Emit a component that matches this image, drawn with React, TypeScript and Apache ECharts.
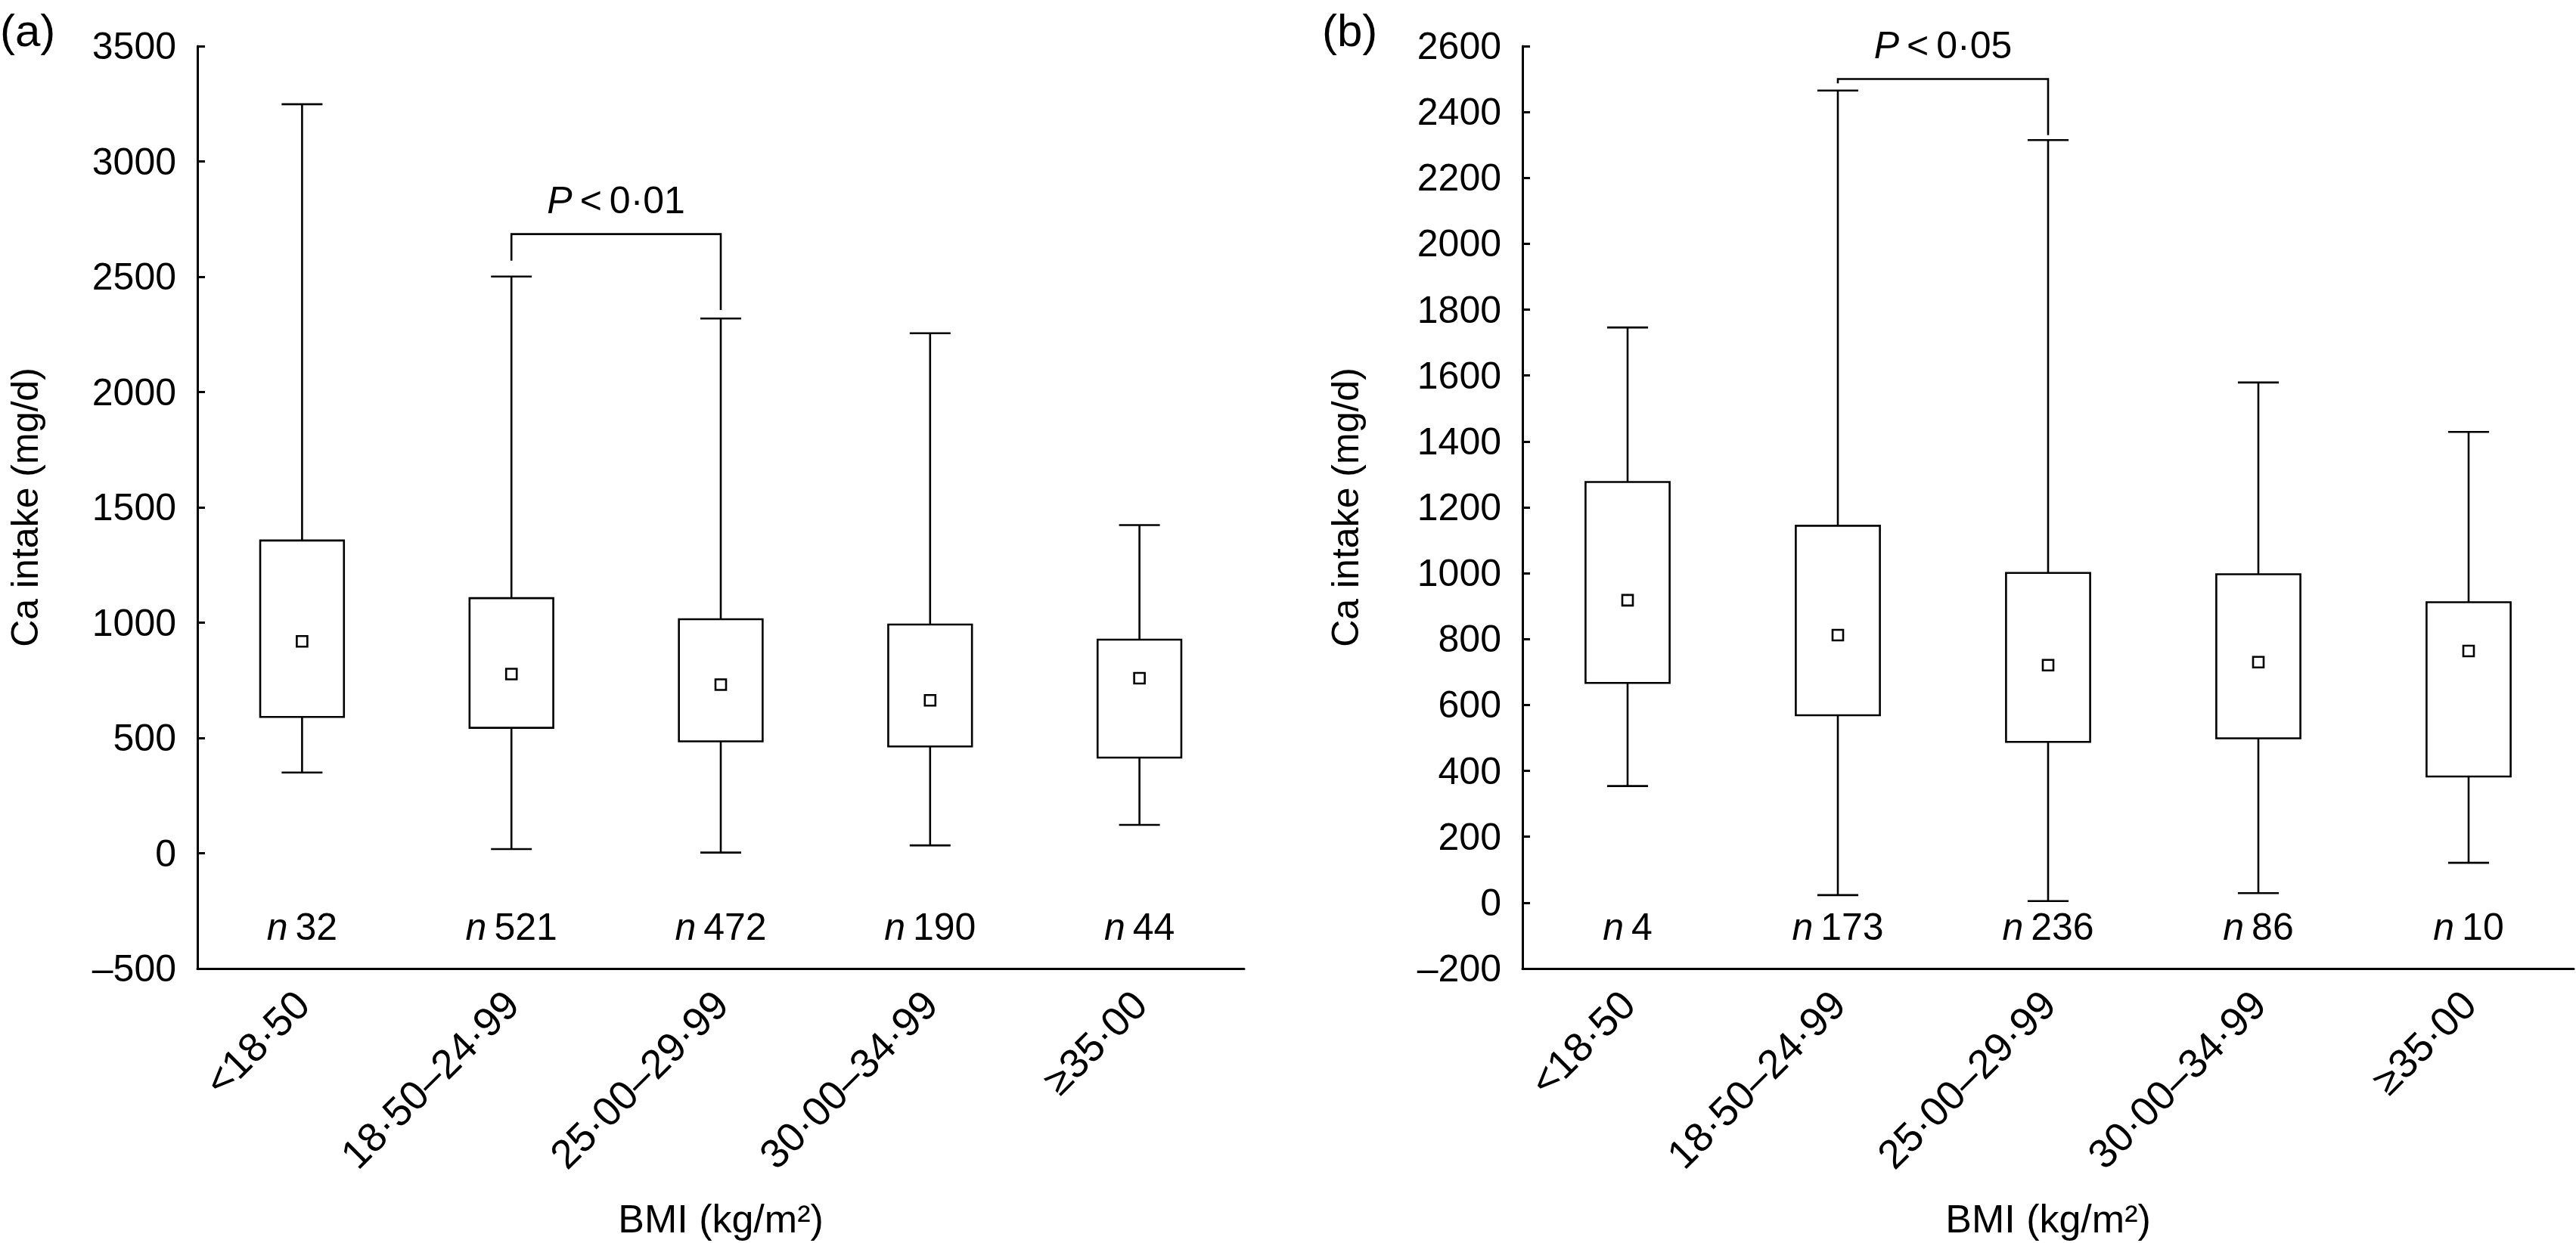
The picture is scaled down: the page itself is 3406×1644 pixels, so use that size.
import React, { useEffect, useRef } from 'react';
import * as echarts from 'echarts';

// ---------- data ----------
const categories = ['<18·50', '18·50–24·99', '25·00–29·99', '30·00–34·99', '≥35·00'];

// Panel (a): Ca intake (mg/d) by BMI
const aLow = [350, 18, 3, 34, 123];
const aQ1 = [591, 544, 485, 463, 415];
const aQ3 = [1356, 1106, 1015, 992, 926];
const aHigh = [3248, 2501, 2319, 2255, 1423];
const aMean = [919, 777, 731, 663, 759];
const aN = [32, 521, 472, 190, 44];
const aAxis = { min: -500, max: 3500, interval: 500 };
const aBracket = [1, 2, 2685, 2570, 2356]; // from cat, to cat, top, left end, right end
const aP = '0·01';

// Panel (b)
const bLow = [354, 23, 5, 29, 121];
const bQ1 = [667, 569, 488, 499, 383];
const bQ3 = [1277, 1144, 1001, 997, 912];
const bHigh = [1746, 2465, 2315, 1579, 1429];
const bMean = [918, 812, 721, 730, 764];
const bN = [4, 173, 236, 86, 10];
const bAxis = { min: -200, max: 2600, interval: 200 };
const bBracket = [1, 2, 2500, 2487, 2330];
const bP = '0·05';

const yName = 'Ca intake (mg/d)';
const xName = 'BMI (kg/m²)';

// ---------- style ----------
const FONT = '"Liberation Sans", Arial, Helvetica, sans-serif';
const LW = 2.6;
const BLACK = '#000';

const boxRows = (lo: number[], q1: number[], q3: number[], hi: number[], mean: number[]) =>
  categories.map((_, i) => [i, lo[i], q1[i], q3[i], hi[i], mean[i]]);

const renderBox = (_params: any, api: any) => {
  const i = api.value(0);
  const pLow = api.coord([i, api.value(1)]);
  const pQ1 = api.coord([i, api.value(2)]);
  const pQ3 = api.coord([i, api.value(3)]);
  const pHigh = api.coord([i, api.value(4)]);
  const pMean = api.coord([i, api.value(5)]);
  const band = api.size([1, 0])[0];
  const cx = pLow[0];
  const bw = band * 0.4;
  const cw = band * 0.195;
  const ms = 14;
  const ls = { stroke: BLACK, lineWidth: LW, fill: 'none' };
  return {
    type: 'group',
    children: [
      { type: 'line', shape: { x1: cx, y1: pHigh[1], x2: cx, y2: pQ3[1] }, style: ls },
      { type: 'line', shape: { x1: cx, y1: pQ1[1], x2: cx, y2: pLow[1] }, style: ls },
      { type: 'line', shape: { x1: cx - cw / 2, y1: pHigh[1], x2: cx + cw / 2, y2: pHigh[1] }, style: ls },
      { type: 'line', shape: { x1: cx - cw / 2, y1: pLow[1], x2: cx + cw / 2, y2: pLow[1] }, style: ls },
      {
        type: 'rect',
        shape: { x: cx - bw / 2, y: pQ3[1], width: bw, height: pQ1[1] - pQ3[1] },
        style: { stroke: BLACK, lineWidth: LW, fill: '#fff' },
      },
      {
        type: 'rect',
        shape: { x: cx - ms / 2, y: pMean[1] - ms / 2, width: ms, height: ms },
        style: { stroke: BLACK, lineWidth: LW, fill: '#fff' },
      },
    ],
  };
};

const renderBracket = (pText: string) => (_params: any, api: any) => {
  const l = api.value(0);
  const r = api.value(1);
  const pL = api.coord([l, api.value(2)]);
  const pR = api.coord([r, api.value(2)]);
  const pLe = api.coord([l, api.value(3)]);
  const pRe = api.coord([r, api.value(4)]);
  return {
    type: 'group',
    children: [
      {
        type: 'polyline',
        shape: { points: [[pLe[0], pLe[1]], [pL[0], pL[1]], [pR[0], pR[1]], [pRe[0], pRe[1]]] },
        style: { stroke: BLACK, lineWidth: LW, fill: 'none' },
      },
      {
        type: 'text',
        x: (pL[0] + pR[0]) / 2,
        y: pL[1] - 45,
        style: {
          text: '{i|P}\u2009<\u2009' + pText,
          rich: { i: { fontStyle: 'italic', fontSize: 50, fontFamily: FONT, fill: BLACK } },
          fontSize: 50,
          fontFamily: FONT,
          fill: BLACK,
          align: 'center',
          verticalAlign: 'middle',
        },
      },
    ],
  };
};

const yAxisOf = (gridIndex: number, t: { min: number; max: number; interval: number }, nameGap: number) => ({
  type: 'value',
  gridIndex,
  min: t.min,
  max: t.max,
  interval: t.interval,
  name: yName,
  nameLocation: 'middle',
  nameGap,
  nameTextStyle: { fontSize: 50, fontFamily: FONT, color: BLACK },
  axisLine: { show: true, lineStyle: { color: BLACK, width: 3 } },
  axisTick: { show: true, inside: true, length: 10, lineStyle: { color: BLACK, width: 3 } },
  axisLabel: {
    fontSize: 50,
    fontFamily: FONT,
    color: BLACK,
    margin: 28,
    formatter: (v: number) => (v < 0 ? '\u2013' + Math.abs(v) : String(v)),
  },
  splitLine: { show: false },
});

const xCatAxis = (gridIndex: number) => ({
  type: 'category',
  gridIndex,
  data: categories,
  boundaryGap: true,
  position: 'bottom',
  axisLine: { onZero: false, lineStyle: { color: BLACK, width: 3 } },
  axisTick: { alignWithLabel: true, inside: true, length: 10, lineStyle: { color: BLACK, width: 3 } },
  axisLabel: { rotate: 45, interval: 0, fontSize: 54, fontFamily: FONT, color: BLACK, margin: 38 },
  name: xName,
  nameLocation: 'middle',
  nameGap: 305,
  nameTextStyle: { fontSize: 52, fontFamily: FONT, color: BLACK },
  splitLine: { show: false },
});

const xNAxis = (gridIndex: number, ns: number[]) => ({
  type: 'category',
  gridIndex,
  data: ns.map(String),
  boundaryGap: true,
  position: 'bottom',
  axisLine: { show: false, onZero: false },
  axisTick: { show: false },
  splitLine: { show: false },
  axisLabel: {
    inside: true,
    margin: 30,
    interval: 0,
    fontSize: 50,
    fontFamily: FONT,
    color: BLACK,
    formatter: (v: string) => '{i|n}\u2009' + v,
    rich: { i: { fontStyle: 'italic', fontSize: 50, fontFamily: FONT, color: BLACK } },
  },
});

export default function App() {
  const ref = useRef<HTMLDivElement>(null);
  useEffect(() => {
    document.body.style.margin = '0';
    if (!ref.current) return;
    const chart = echarts.init(ref.current, undefined, { renderer: 'svg' });
    chart.setOption({
      animation: false,
      backgroundColor: '#fff',
      grid: [
        { left: 261, top: 61, width: 1384, height: 1220, containLabel: false },
        { left: 2013, top: 61, width: 1390, height: 1220, containLabel: false },
      ],
      xAxis: [xCatAxis(0), xCatAxis(1), xNAxis(0, aN), xNAxis(1, bN)],
      yAxis: [yAxisOf(0, aAxis, 203), yAxisOf(1, bAxis, 209)],
      series: [
        {
          type: 'custom',
          xAxisIndex: 0,
          yAxisIndex: 0,
          renderItem: renderBox,
          encode: { x: 0, y: [1, 2, 3, 4, 5] },
          data: boxRows(aLow, aQ1, aQ3, aHigh, aMean),
        },
        {
          type: 'custom',
          xAxisIndex: 1,
          yAxisIndex: 1,
          renderItem: renderBox,
          encode: { x: 0, y: [1, 2, 3, 4, 5] },
          data: boxRows(bLow, bQ1, bQ3, bHigh, bMean),
        },
        {
          type: 'custom',
          xAxisIndex: 0,
          yAxisIndex: 0,
          renderItem: renderBracket(aP),
          encode: { x: [0, 1], y: [2, 3, 4] },
          data: [aBracket],
        },
        {
          type: 'custom',
          xAxisIndex: 1,
          yAxisIndex: 1,
          renderItem: renderBracket(bP),
          encode: { x: [0, 1], y: [2, 3, 4] },
          data: [bBracket],
        },
      ],
      graphic: [
        { type: 'text', left: 0, top: 10, style: { text: '(a)', fontSize: 60, fontFamily: FONT, fill: BLACK } },
        { type: 'text', left: 1748, top: 10, style: { text: '(b)', fontSize: 60, fontFamily: FONT, fill: BLACK } },
      ],
    });
    return () => chart.dispose();
  }, []);
  return <div ref={ref} style={{ width: 3406, height: 1644 }} />;
}
